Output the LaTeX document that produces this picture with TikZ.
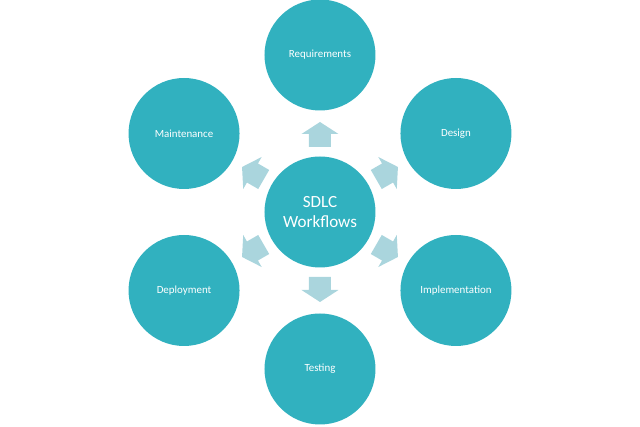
\documentclass[tikz,border=0pt]{standalone}
\usepackage{fontspec}
\setmainfont{Carlito}
\definecolor{teal1}{HTML}{31B1BF}
\definecolor{arrowc}{HTML}{AAD5DD}
\begin{document}
\begin{tikzpicture}[x=0.75pt,y=0.75pt,
  bubble/.style={circle,fill=teal1,minimum size=111*0.75pt,inner sep=0pt,text=white,align=center,font=\fontsize{8.2}{10}\selectfont},
  hub/.style={bubble,font=\fontsize{12.8}{14.3}\selectfont},
  blockarrow/.style={fill=arrowc}]
\useasboundingbox (-320,-215) rectangle (320,212);
\node[hub] (c) at (0,0) {SDLC\\Workflows};
\node[bubble] (req) at (90:157) {Requirements};
\node[bubble] (des) at (30:157) {Design};
\node[bubble] (imp) at (-30:157) {Implementation};
\node[bubble] (tst) at (-90:157) {Testing};
\node[bubble] (dep) at (-150:157) {Deployment};
\node[bubble] (mnt) at (150:157) {Maintenance};
\foreach \a in {90,30,-30,-90,-150,150}{
  \begin{scope}[shift={(c)},rotate=\a-90]
  \fill[blockarrow] (-11,65) -- (-11,78) -- (-18.5,78) -- (0,90) -- (18.5,78) -- (11,78) -- (11,65) -- cycle;
  \end{scope}
}
\end{tikzpicture}
\end{document}
